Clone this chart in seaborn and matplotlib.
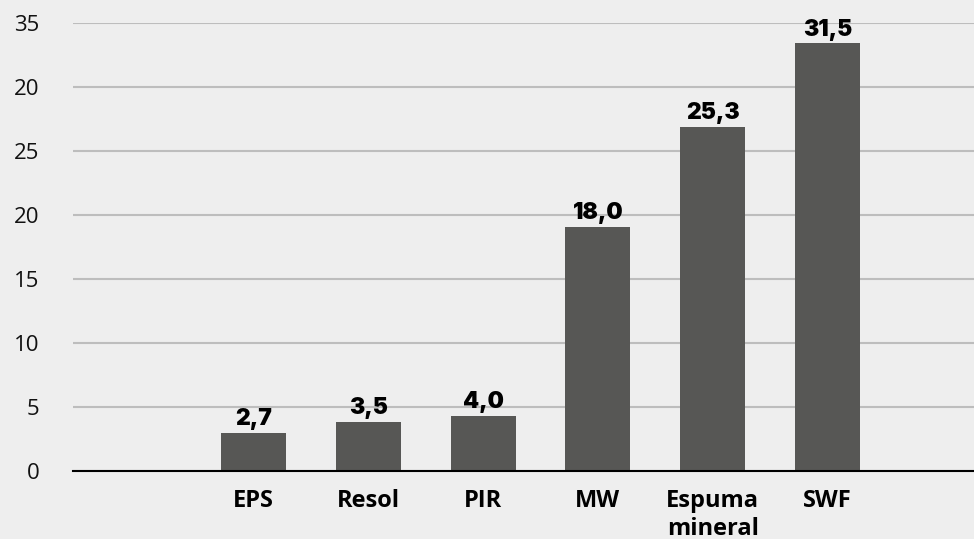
import matplotlib
matplotlib.use("Agg")
import matplotlib.pyplot as plt
import seaborn as sns
import pandas as pd

# data
categories = ["EPS", "Resol", "PIR", "MW", "Espuma\nmineral", "SWF"]
bar_heights = [2.97, 3.83, 4.3, 19.1, 26.9, 33.4]
value_labels = ["2,7", "3,5", "4,0", "18,0", "25,3", "31,5"]
y_ticks = [0, 5, 10, 15, 20, 25, 30, 35]
y_tick_labels = ["0", "5", "10", "15", "20", "25", "20", "35"]

df = pd.DataFrame({"material": categories, "valor": bar_heights})

sns.set_theme(style="white")
plt.rcParams["font.family"] = ["Open Sans", "DejaVu Sans"]

bg = "#eeeeee"
fig = plt.figure(figsize=(9.74, 5.39), dpi=100, facecolor=bg)
ax = fig.add_axes([0.075, 0.1262, 0.925, 0.8311])
ax.set_facecolor(bg)

sns.barplot(data=df, x="material", y="valor", color="#575755",
            saturation=1, width=0.566, linewidth=0, ax=ax, zorder=3)

ax.bar_label(ax.containers[0], labels=value_labels, padding=2,
             fontsize=16.5, fontweight="black", family=["Inter", "DejaVu Sans"],
             color="black")

ax.set_ylim(0, 35)
ax.set_xlim(-1.572, 6.276)
ax.set_yticks(y_ticks)
ax.set_yticklabels(y_tick_labels, fontsize=16, color="#111111")
ax.tick_params(axis="y", length=0, pad=24)
ax.tick_params(axis="x", length=0, pad=13)
for lbl in ax.get_xticklabels():
    lbl.set_fontsize(17)
    lbl.set_fontweight("bold")
    lbl.set_color("black")
    lbl.set_linespacing(1.2)

ax.grid(axis="y", color="#bdbdbd", linewidth=1.5, zorder=0)
ax.set_axisbelow(True)
for side in ["top", "right", "left"]:
    ax.spines[side].set_visible(False)
ax.spines["bottom"].set_color("black")
ax.spines["bottom"].set_linewidth(1.5)
ax.spines["bottom"].set_zorder(4)

ax.set_xlabel("")
ax.set_ylabel("")

fig.savefig("out.png", dpi=100, facecolor=bg)
